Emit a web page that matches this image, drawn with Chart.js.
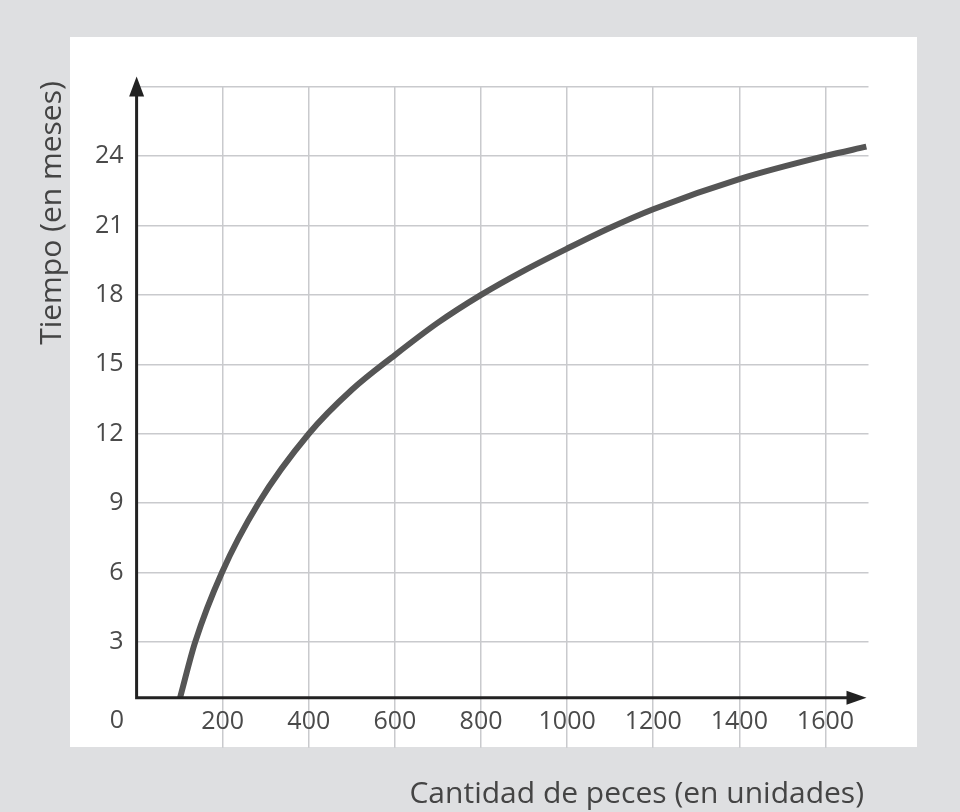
<!DOCTYPE html>
<html>
<head>
<meta charset="utf-8">
<script src="https://cdn.jsdelivr.net/npm/chart.js@4.4.1/dist/chart.umd.min.js"></script>
<style>
  html, body { margin: 0; padding: 0; background: #dedfe1; }
  canvas { display: block; }
</style>
</head>
<body>
<canvas id="fishChart" width="960" height="812"></canvas>
<script>
// values
const fishCount = [101, 136, 198, 283, 400, 500, 600, 700, 800, 900, 1000, 1100, 1200, 1400, 1600, 1695];
const months    = [0.6, 3, 6, 9, 12, 13.9, 15.4, 16.8, 18, 19.05, 20, 20.9, 21.7, 23, 24, 24.4];

const xTicks = [200, 400, 600, 800, 1000, 1200, 1400, 1600];
const yTicks = [3, 6, 9, 12, 15, 18, 21, 24, 27];
const yTickLabels = ['3', '6', '9', '12', '15', '18', '21', '24', ''];

const xTitle = 'Cantidad de peces (en unidades)';
const yTitle = 'Tiempo (en meses)';

const gridColor = '#c9cacd';
const textColor = '#4a4a4a';

Chart.defaults.font.family = "'Open Sans', sans-serif";

const framePlugin = {
  id: 'frame',
  beforeDraw(chart) {
    const ctx = chart.ctx;
    ctx.save();
    ctx.fillStyle = '#dedfe1';
    ctx.fillRect(0, 0, chart.width, chart.height);
    ctx.fillStyle = '#ffffff';
    ctx.fillRect(70, 37, 847, 710);
    ctx.restore();
  },
  afterDatasetsDraw(chart) {
    const ctx = chart.ctx;
    const xs = chart.scales.x, ys = chart.scales.y;
    const x0 = xs.getPixelForValue(0);
    const yb = ys.getPixelForValue(0.6);
    const topTip = ys.getPixelForValue(27) - 10;
    const rightTip = xs.getPixelForValue(1700) - 2;
    ctx.save();
    ctx.strokeStyle = '#222';
    ctx.fillStyle = '#222';
    ctx.lineWidth = 3;
    ctx.beginPath();
    ctx.moveTo(x0, yb + 1.5);
    ctx.lineTo(x0, topTip + 15);
    ctx.moveTo(x0 - 1.5, yb);
    ctx.lineTo(rightTip - 15, yb);
    ctx.stroke();
    // arrow heads
    ctx.beginPath();
    ctx.moveTo(x0, topTip);
    ctx.lineTo(x0 - 7.5, topTip + 20);
    ctx.lineTo(x0 + 7.5, topTip + 20);
    ctx.closePath();
    ctx.fill();
    ctx.beginPath();
    ctx.moveTo(rightTip, yb);
    ctx.lineTo(rightTip - 20, yb - 7);
    ctx.lineTo(rightTip - 20, yb + 7);
    ctx.closePath();
    ctx.fill();
    ctx.restore();
  },
  afterDraw(chart) {
    const ctx = chart.ctx;
    ctx.save();
    ctx.fillStyle = textColor;
    ctx.font = "25px 'Open Sans', sans-serif";
    ctx.textAlign = 'center';
    ctx.textBaseline = 'middle';
    ctx.fillText('0', 117, 721);

    ctx.fillStyle = '#444';
    ctx.font = "30px 'Open Sans', sans-serif";
    ctx.textAlign = 'right';
    ctx.textBaseline = 'alphabetic';
    ctx.fillText(xTitle, 864, 803);

    ctx.translate(61, 213);
    ctx.rotate(-Math.PI / 2);
    ctx.textAlign = 'center';
    ctx.fillText(yTitle, 0, 0);
    ctx.restore();
  }
};

new Chart(document.getElementById('fishChart'), {
  type: 'line',
  data: {
    datasets: [{
      data: fishCount.map((v, i) => ({ x: v, y: months[i] })),
      borderColor: '#555555',
      borderWidth: 6,
      pointRadius: 0,
      fill: false,
      cubicInterpolationMode: 'monotone'
    }]
  },
  options: {
    responsive: false,
    animation: false,
    devicePixelRatio: 1,
    layout: { padding: { left: 0, top: 86.5, right: 91.5, bottom: 0 } },
    plugins: {
      legend: { display: false },
      tooltip: { enabled: false }
    },
    scales: {
      x: {
        type: 'linear',
        min: 0,
        max: 1700,
        afterBuildTicks: s => { s.ticks = xTicks.map(v => ({ value: v })); },
        afterFit: s => { s.height = 114.3; },
        grid: { color: gridColor, lineWidth: 1.5, drawTicks: true, tickLength: 50, tickColor: gridColor },
        border: { display: false },
        ticks: {
          color: textColor,
          font: { size: 25 },
          padding: -41,
          maxRotation: 0,
          autoSkip: false,
          callback: v => String(v)
        }
      },
      y: {
        type: 'linear',
        min: 0.6,
        max: 27,
        afterBuildTicks: s => { s.ticks = yTicks.map(v => ({ value: v })); },
        afterFit: s => { s.width = 136.6; },
        grid: { color: gridColor, lineWidth: 1.5, drawTicks: false },
        border: { display: false },
        ticks: {
          color: textColor,
          font: { size: 25 },
          padding: 13,
          callback: (v, i) => yTickLabels[i]
        }
      }
    }
  },
  plugins: [framePlugin]
});
</script>
</body>
</html>
